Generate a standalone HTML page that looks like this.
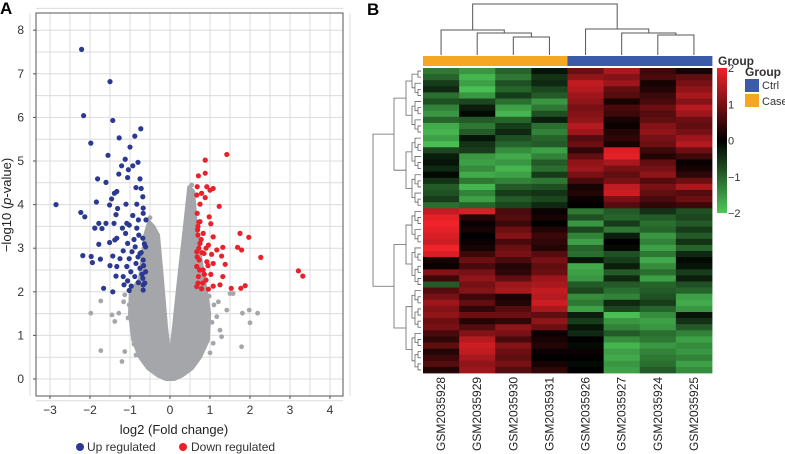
<!DOCTYPE html>
<html><head><meta charset="utf-8"><style>
body{margin:0;background:#fff}
svg{display:block;font-family:"Liberation Sans",sans-serif}
</style></head><body>
<svg id="fig" width="785" height="454" viewBox="0 0 785 454"></svg>
<script>
// ---------- Volcano data ----------
const upX=[-2.21,-1.5,-2.16,-1.43,-1.98,-1.27,-0.88,-0.73,-1.0,-1.55,-1.12,-1.21,-0.93,-0.8,-1.04,-1.28,-1.81,-1.6,-1.06,-0.75,-0.85,-0.72,-1.33,-1.39,-1.46,-0.68,-1.84,-2.85,-1.51,-1.1,-0.83,-1.31,-0.67,-2.23,-2.13,-1.35,-0.93,-0.67,-1.78,-1.6,-1.88,-1.7,-1.4,-1.08,-1.02,-0.83,-0.6,-1.19,-0.79,-1.33,-1.11,-1.38,-1.51,-1.78,-1.06,-0.68,-0.87,-0.61,-1.17,-0.95,-0.75,-2.18,-1.97,-1.74,-1.43,-1.25,-1.02,-0.67,-1.94,-0.85,-1.5,-1.33,-1.08,-0.75,-0.98,-0.61,-1.35,-1.17,-0.88,-0.68,-1.06,-0.79,-1.15,-0.97,-0.67,-1.66,-1.02,-1.43,-0.67,-0.7,-0.72,-0.64,-0.78,-0.66,-0.8,-0.9,-0.63];
const upY=[7.56,6.82,6.04,5.93,5.41,5.53,5.57,5.74,5.32,5.13,5.04,4.89,4.89,4.97,4.8,4.7,4.59,4.51,4.62,4.59,4.39,4.37,4.3,4.26,4.13,4.18,4.06,4.0,3.99,4.01,4.01,3.91,3.92,3.82,3.72,3.77,3.75,3.8,3.57,3.57,3.46,3.45,3.57,3.57,3.53,3.46,3.65,3.46,3.65,3.23,3.34,3.19,3.13,3.09,3.11,3.23,3.03,3.03,2.94,2.92,2.88,2.83,2.81,2.75,2.82,2.76,2.76,2.73,2.67,2.65,2.6,2.58,2.58,2.54,2.46,2.46,2.36,2.35,2.35,2.31,2.25,2.21,2.16,2.13,2.16,2.08,2.03,2.0,2.04,2.4,2.9,3.1,3.3,2.6,2.8,3.2,2.2];
const downX=[1.42,0.88,0.71,0.88,0.68,0.92,1.0,1.08,0.79,0.67,0.88,0.75,1.23,0.68,0.98,0.75,1.02,1.75,1.97,0.69,0.83,1.08,0.75,0.96,1.32,1.69,1.79,1.17,0.67,0.85,1.04,1.29,2.27,3.21,3.32,0.73,0.92,1.08,1.38,0.67,0.83,1.02,1.32,0.71,0.9,1.25,1.08,1.88,0.67,1.53,1.77,0.79,0.96,0.7,0.72,0.68,0.74,0.7,0.8,0.78,0.9,0.86,0.95,0.7,0.72,0.82];
const downY=[5.15,5.02,4.66,4.72,4.41,4.41,4.33,4.37,4.26,4.22,4.16,4.01,3.96,3.8,3.72,3.61,3.56,3.34,3.25,3.42,3.34,3.26,3.11,3.07,3.02,3.02,2.96,2.96,2.92,2.88,2.86,2.82,2.79,2.48,2.36,2.73,2.69,2.65,2.63,2.58,2.5,2.4,2.35,2.35,2.27,2.16,2.13,2.14,2.12,2.08,2.08,2.07,2.06,3.3,3.0,2.8,2.5,2.2,2.9,3.2,3.0,2.4,2.6,3.5,3.6,2.2];
const nsX=[-1.98,-1.73,-1.73,-1.45,-1.38,-1.28,-1.2,-1.13,-1.16,-1.13,1.79,1.81,1.98,2.0,2.19,1.42,1.5,1.58,1.25,1.29,1.08,1.17,1.21,0.54,0.54,0.5,-0.6,-0.75,-0.85,-0.9,-1.05,-1.02,1.0,1.05,1.1,0.98,-0.5,0.55];
const nsY=[1.51,1.79,0.65,1.47,1.32,1.51,0.4,0.63,1.77,1.93,0.74,1.51,1.58,1.29,1.51,1.58,1.96,1.96,1.12,0.97,0.82,1.43,1.77,4.1,4.45,3.91,1.62,1.24,0.55,0.8,1.4,1.7,0.6,1.3,1.7,1.9,3.7,3.65];
const cloudX=[-0.1,-0.3,-0.55,-0.75,-0.92,-1.0,-0.98,-0.75,-0.62,-0.52,-0.42,-0.3,-0.22,-0.1,0,0.1,0.25,0.35,0.48,0.58,0.64,0.66,0.9,0.98,0.95,0.75,0.55,0.3,0.1];
const cloudY=[0,0.08,0.25,0.5,0.9,1.5,2.0,2.3,3.3,3.6,3.5,3.3,2.5,1.2,0.4,1.2,2.5,3.3,4.4,4.3,3.6,3.3,2.0,1.5,0.9,0.5,0.25,0.08,0];
const xTicks=[-3,-2,-1,0,1,2,3,4];
const yTicks=[0,1,2,3,4,5,6,7,8];
// ---------- Heatmap data ----------
const samples=["GSM2035928","GSM2035929","GSM2035930","GSM2035931","GSM2035926","GSM2035927","GSM2035924","GSM2035925"];
const groups=["Case","Case","Case","Case","Ctrl","Ctrl","Ctrl","Ctrl"];
const heat=[
[-1.2,-1.5,-1.0,-0.2,0.9,1.4,0.5,0.2],[-1.0,-1.8,-1.2,-0.5,1.2,1.1,0.6,0.8],[-0.6,-1.6,-0.8,-0.4,1.6,1.3,0.2,1.0],[-0.4,-1.9,-1.0,-0.7,1.5,0.8,0.3,1.2],
[-1.1,-1.5,-0.6,-0.9,1.3,0.7,0.5,1.4],[-0.8,-0.7,-1.1,-1.5,1.2,0.2,0.6,1.1],[-1.3,-0.3,-1.6,-1.2,1.0,0.6,0.9,1.5],[-1.5,-0.1,-1.8,-0.8,1.1,0.5,0.7,1.3],
[-1.0,-0.9,-1.0,-0.3,1.2,0.2,0.8,0.9],[-1.7,-1.2,-0.6,-1.1,1.5,0.1,1.1,0.8],[-1.8,-0.9,-0.4,-1.3,1.3,0.3,1.2,1.0],[-1.6,-0.2,-0.8,-1.0,0.7,0.4,1.0,1.3],
[-1.9,-0.5,-1.0,-0.9,0.9,0.2,0.9,1.5],[-0.7,-0.6,-1.4,-1.6,0.4,1.8,0.5,0.9],[-0.3,-1.5,-1.7,-1.3,0.8,1.9,0.3,0.5],[-0.2,-1.6,-1.5,-0.9,1.2,1.4,0.8,0.1],
[-0.4,-1.4,-1.8,-1.1,1.3,1.0,1.0,0.2],[-0.1,-1.7,-1.6,-0.6,1.0,0.8,1.2,0.4],[-0.5,-1.2,-1.3,-1.2,0.6,1.0,0.7,0.9],[-0.9,-1.8,-0.9,-0.8,0.2,1.6,1.0,1.4],
[-0.8,-1.3,-0.6,-0.5,0.3,1.7,0.8,0.7],[-0.6,-1.6,-0.9,-0.7,0.1,1.0,0.6,0.9],[-1.1,-1.0,-0.7,-0.4,0.0,0.7,0.4,0.5],
[1.6,1.8,0.6,0.1,-1.2,-0.9,-0.5,-0.8],[1.9,0.3,0.7,0.2,-0.8,-1.0,-0.9,-0.7],[2.0,0.1,0.5,0.0,-1.5,-0.6,-1.1,-0.9],[1.9,0.2,0.9,0.3,-0.7,-1.2,-1.0,-0.6],
[1.8,0.0,1.1,0.5,-1.3,-0.3,-1.5,-0.9],[1.7,0.1,0.6,0.4,-1.6,0.0,-1.3,-0.5],[2.0,0.2,0.9,0.3,-1.0,-0.1,-1.6,-1.0],[1.8,0.5,1.0,0.7,-1.1,-0.8,-1.2,-0.4],
[0.2,0.9,0.6,1.0,-0.2,-0.6,-1.7,-0.1],[0.1,0.6,0.3,0.8,-1.7,-0.3,-1.4,-0.2],[1.1,1.0,0.4,0.9,-1.6,-0.9,-1.1,-0.6],[0.5,1.2,0.8,1.3,-1.5,-0.4,-1.6,-0.3],
[-0.9,1.0,1.3,1.4,-0.9,-0.9,-1.0,-0.8],[0.7,1.1,1.4,1.6,-0.7,-1.1,-0.9,-1.0],[1.0,0.5,0.2,1.5,-1.4,-1.3,-0.8,-1.6],[1.3,0.8,0.3,1.7,-1.2,-0.4,-0.6,-1.7],
[1.1,0.4,0.7,1.4,-1.6,-0.7,-1.0,-1.5],[1.2,0.9,0.9,0.8,-0.3,-1.9,-1.4,-0.2],[0.9,0.3,0.4,1.2,-0.6,-1.5,-1.6,-0.5],[1.0,0.7,1.2,0.9,-0.2,-1.3,-1.5,-0.9],
[0.6,1.1,1.0,0.1,-0.4,-0.9,-1.1,-1.3],[0.4,1.5,0.6,0.2,0.0,-1.4,-1.2,-1.6],[0.8,1.7,1.1,0.3,-0.1,-1.8,-1.5,-1.4],[0.3,1.6,0.9,0.1,0.1,-1.6,-1.3,-1.5],
[0.5,1.4,0.8,0.0,0.0,-1.7,-1.2,-1.3],[0.7,1.2,1.0,0.2,-0.1,-1.5,-1.1,-1.6],[0.3,1.3,0.7,0.4,0.0,-1.6,-0.9,-1.4]];
const cbTicks=[2,1,0,-1,-2];

const NS="http://www.w3.org/2000/svg";
const svg=document.getElementById('fig');
function mk(tag,attrs,parent,text){const e=document.createElementNS(NS,tag);for(const k in attrs)e.setAttribute(k,attrs[k]);if(text!==undefined)e.textContent=text;(parent||svg).appendChild(e);return e;}

// ----- Panel A -----
const L=36,R=343,T=13,B=396;
const sx=v=>170+v*40, sy=v=>379-v*43.6;
const gA=mk('g',{});


let t=mk('text',{x:0,y:14,'font-size':17,'font-weight':'bold'},gA,'A');

for(let v=-3.5;v<=4.5;v+=0.5){const l=mk('line',{x1:sx(v),x2:sx(v),y1:T,y2:B,stroke:'#dcdcdc','stroke-width':1},gA);}
for(let v=-0.5;v<=8.5;v+=0.5){const l=mk('line',{x1:L,x2:R,y1:sy(v),y2:sy(v),stroke:'#dcdcdc','stroke-width':1},gA);}
const fr=mk('rect',{x:L,y:T,width:R-L,height:B-T,fill:'none',stroke:'#555','stroke-width':1},gA);

xTicks.forEach(v=>{mk('line',{x1:sx(v),x2:sx(v),y1:B,y2:B+3,stroke:'#555'},gA);const e=mk('text',{x:sx(v),y:B+18,'font-size':12,'text-anchor':'middle',fill:'#333'},gA,(v<0?'\u2212'+(-v):v));});
yTicks.forEach(v=>{mk('line',{x1:L-3,x2:L,y1:sy(v),y2:sy(v),stroke:'#555'},gA);const e=mk('text',{x:24,y:sy(v)+4,'font-size':12,'text-anchor':'end',fill:'#333'},gA,v);});
const cloud=mk('polygon',{points:cloudX.map((x,i)=>sx(x)+','+sy(cloudY[i])).join(' '),fill:'#a4a6a9',stroke:'#a4a6a9','stroke-width':4,'stroke-linejoin':'round'},gA);

nsX.forEach((x,i)=>{const c=mk('circle',{cx:sx(x),cy:sy(nsY[i]),r:2.4,fill:'#a4a6a9'},gA);});
upX.forEach((x,i)=>{const c=mk('circle',{cx:sx(x),cy:sy(upY[i]),r:2.6,fill:'#2b3990'},gA);});
downX.forEach((x,i)=>{const c=mk('circle',{cx:sx(x),cy:sy(downY[i]),r:2.6,fill:'#e8212a'},gA);});
t=mk('text',{x:174,y:434,'font-size':13,'text-anchor':'middle',fill:'#222'},gA,'log2 (Fold change)');

t=mk('text',{x:0,y:0,'font-size':13,'text-anchor':'middle',fill:'#222',transform:'translate(11,205) rotate(-90)'},gA);

mk('tspan',{},t,'\u2212log10 (');mk('tspan',{'font-style':'italic'},t,'p');mk('tspan',{},t,'-value)');
let c=mk('circle',{cx:80,cy:447,r:4,fill:'#2b3990'},gA);
t=mk('text',{x:87,y:451,'font-size':12,fill:'#333'},gA,'Up regulated');
c=mk('circle',{cx:183,cy:447,r:4,fill:'#e8212a'},gA);
t=mk('text',{x:191,y:451,'font-size':12,fill:'#333'},gA,'Down regulated');

// ----- Panel B -----
const HL=423,HR=712,HT=68,HB=373;
const cw=(HR-HL)/samples.length, rh=(HB-HT)/heat.length;
const gB=mk('g',{});


t=mk('text',{x:367,y:15,'font-size':17,'font-weight':'bold'},gB,'B');

function col(v){v=Math.max(-2,Math.min(2,v));let r,g,b;if(v>=0){const f=v/2;r=240*f;g=35*f;b=42*f;}else{const f=-v/2;r=78*f;g=200*f;b=88*f;}return `rgb(${r|0},${g|0},${b|0})`;}
heat.forEach((row,i)=>row.forEach((v,j)=>{const r=mk('rect',{x:HL+j*cw,y:HT+i*rh,width:cw+0.4,height:rh+0.4,fill:col(v)},gB);}));
groups.forEach((g,j)=>{const r=mk('rect',{x:HL+j*cw,y:56,width:cw+0.4,height:10,fill:g==='Case'?'#f5a623':'#3b5ba9'},gB);});
samples.forEach((s,j)=>{const e=mk('text',{x:0,y:0,'font-size':12,fill:'#222',transform:`translate(${HL+(j+0.5)*cw+4},451) rotate(-90)`},gB,s);});
const cx=j=>HL+(j+0.5)*cw;
const dend=mk('g',{stroke:'#555','stroke-width':1,fill:'none'},gB);

function U(x1,y1,x2,y2,yTop){mk('path',{d:`M${x1},${y1}V${yTop}H${x2}V${y2}`},dend);}
const m23=(cx(2)+cx(3))/2, m123=(cx(1)+m23)/2, mL=(cx(0)+m123)/2;
const m67=(cx(6)+cx(7))/2, m567=(cx(5)+m67)/2, mR=(cx(4)+m567)/2;
U(cx(2),55,cx(3),55,37);U(cx(1),55,m23,37,33);U(cx(0),55,m123,33,30);
U(cx(6),55,cx(7),55,35);U(cx(5),55,m67,35,33);U(cx(4),55,m567,33,29);
U(mL,30,mR,29,4);
const rd=mk('g',{stroke:'#666','stroke-width':0.8,fill:'none'},gB);

function build(a,b,depth){ if(b-a===1) return {y:HT+(a+0.5)*rh,x:HL-2};
  let m=(a===0&&b===heat.length)?23:Math.floor((a+b)/2);
  if(m<=a)m=a+1;
  const l=build(a,m,depth+1), r=build(m,b,depth+1);
  let x=Math.min(l.x,r.x)-(b-a>20?12:(b-a>8?6:3));
  if(a===0&&b===heat.length)x=373;
  mk('path',{d:`M${l.x},${l.y}H${x}V${r.y}H${r.x}`},rd);
  return {x:x,y:(l.y+r.y)/2};}
build(0,heat.length,0);
const grad=mk('linearGradient',{id:'cb',x1:0,y1:0,x2:0,y2:1},mk('defs',{}));
[[0,col(2)],[0.25,col(1)],[0.5,col(0)],[0.75,col(-1)],[1,col(-2)]].forEach(s=>mk('stop',{offset:s[0],'stop-color':s[1]},grad));
const cb=mk('rect',{x:717,y:68,width:10,height:145,fill:'url(#cb)'},gB);

cbTicks.forEach(v=>{const y=68+(2-v)/4*145;const e=mk('text',{x:728,y:y+4,'font-size':11,fill:'#333'},gB,v<0?'\u2212'+(-v):v);});
t=mk('text',{x:718,y:65,'font-size':12,'font-weight':'bold',fill:'#333'},gB,'Group');
t=mk('text',{x:745,y:76,'font-size':12,'font-weight':'bold',fill:'#333'},gB,'Group');
let r=mk('rect',{x:745,y:79,width:14,height:13,fill:'#3b5ba9'},gB);
t=mk('text',{x:762,y:89,'font-size':11,fill:'#333'},gB,'Ctrl');
r=mk('rect',{x:745,y:94,width:14,height:13,fill:'#f5a623'},gB);
t=mk('text',{x:762,y:105,'font-size':11,fill:'#333'},gB,'Case');
</script>
</body></html>
